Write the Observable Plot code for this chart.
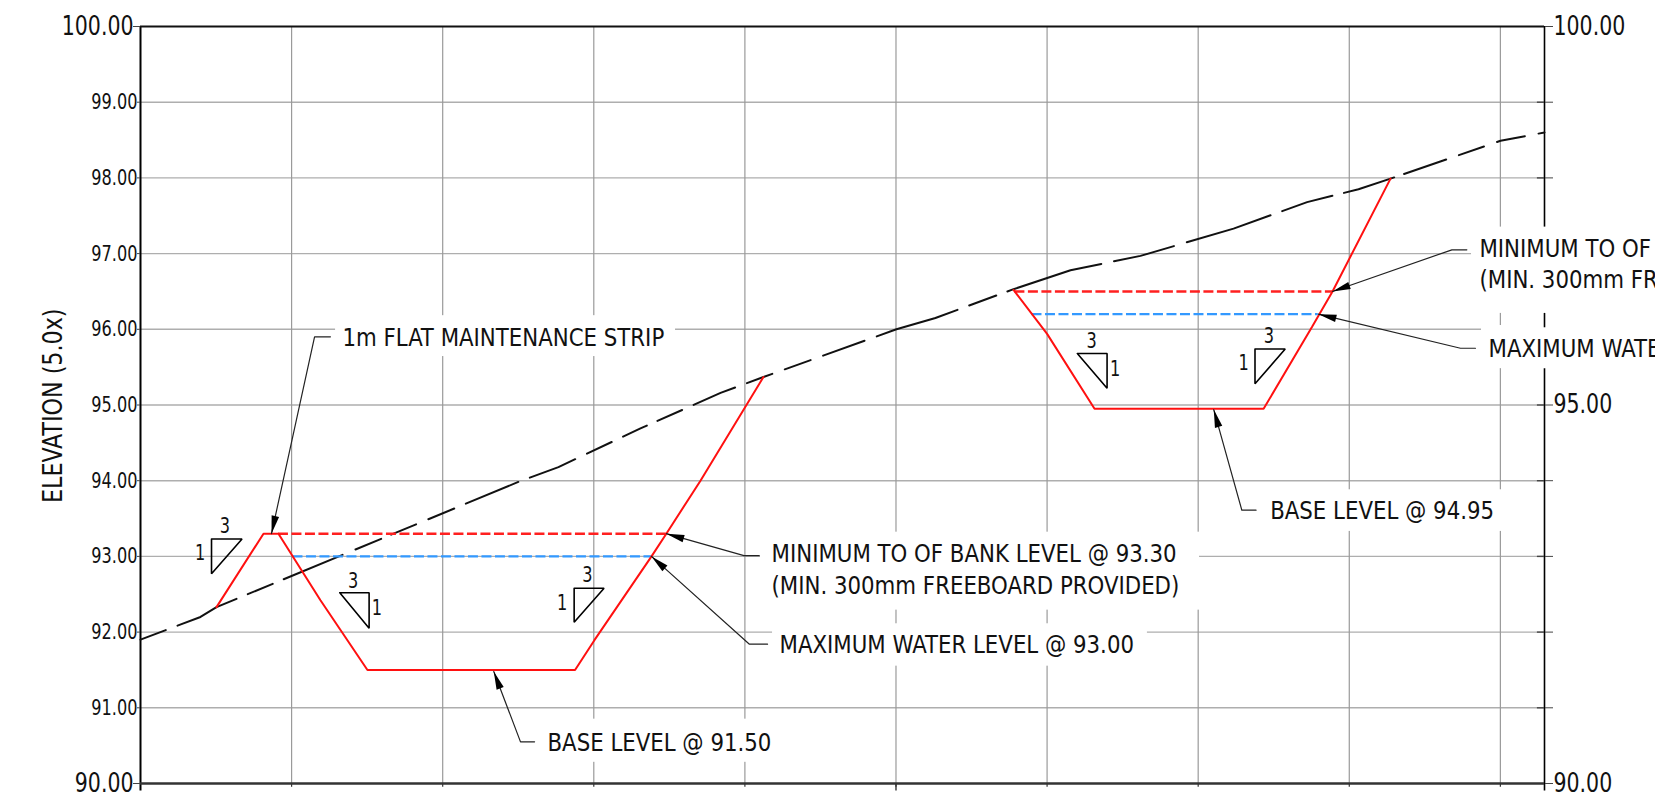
<!DOCTYPE html>
<html><head><meta charset="utf-8">
<style>html,body{margin:0;padding:0;background:#fff;overflow:hidden}</style>
<script src="https://cdn.jsdelivr.net/npm/d3@7"></script>
<script src="https://cdn.jsdelivr.net/npm/@observablehq/plot@0.6"></script>
</head><body><script>
const groundX=[0,3.97,5.03,25.08,27.66,33.09,38.39,41.23,50.03,52.61,57.78,61.55,66.18,72.34,77.21,80.61,82.73,90.01,92.92];
const groundY=[91.9,92.2,92.33,93.99,94.18,94.69,95.16,95.37,96,96.15,96.53,96.78,96.97,97.33,97.68,97.85,97.99,98.49,98.6];
const groundDash=[27,12.6,65,12.2,27,11.9,63.7,14,27.8,10.8,27,13.3,28,12.6,56.8,12.3,49,13,27.3,12.6,26.2,11.6,27,12.6,45,12.6,27,13.3,27.4,13.3,44,13,85,12.5,28.8,11.9,98,13,61.8,13.5,88,12.4,52.5,12,52.5,10.5,44.5,13.5,26.5,13.8,28.5,13.9,13,0];
const pond1X=[5.03,8.14,9.13,11.91,15.02,28.76,30.03,33.82,34.8,37.06,41.23];
const pond1Y=[92.33,93.3,93.3,92.42,91.5,91.5,91.89,93,93.3,94,95.37];
const pond2X=[57.78,60,63.14,74.33,77.53,78.89,82.73];
const pond2Y=[96.52,95.94,94.95,94.95,96.03,96.5,97.99];
const levelSeries=[
 {x1:9.13,x2:34.8,y:93.3,c:"#ff2020"},{x1:10.09,x2:33.82,y:93,c:"#3399ff"},
 {x1:57.87,x2:78.89,y:96.5,c:"#ff2020"},{x1:59,x2:77.95,y:96.2,c:"#3399ff"}];
const gridX=[10,20,30,40,50,60,70,80,90];
const gridY=[91,92,93,94,95,96,97,98,99];
const tickFmt=d3.format(".2f");
const wipeouts=[[12.91,35.41,96.18,95.64],[26.14,42.36,90.85,90.28],[41.03,70.09,93.32,92.29],[41.83,66.64,92.11,91.55],[88.09,100.27,97.35,96.21],[88.75,100.27,96.05,95.48],[73.93,90.34,93.88,93.33]];
const leaders=[
 [[8.67,93.3],[11.52,95.9],[12.57,95.9]],
 [[23.38,91.48],[25.15,90.55],[26.08,90.55]],
 [[34.8,93.3],[39.94,93.01],[40.95,93.01]],
 [[33.82,93],[40.3,91.84],[41.5,91.84]],
 [[71.03,94.94],[72.89,93.61],[73.83,93.61]],
 [[78.89,96.5],[86.79,97.05],[87.78,97.05]],
 [[77.96,96.2],[87.36,95.75],[88.35,95.75]]];
const triangles=[
 [[4.7,93.23],[6.72,93.23],[4.7,92.77]],
 [[13.19,92.52],[15.13,92.52],[15.13,92.05]],
 [[28.7,92.58],[30.68,92.58],[28.7,92.13]],
 [[62,95.68],[63.97,95.68],[63.97,95.22]],
 [[73.76,95.74],[75.76,95.74],[73.76,95.28]]];
const slopeLabels=[["3",5.59,93.4],["1",3.94,93.04],["3",14.08,92.67],["1",15.64,92.32],["3",29.58,92.76],["1",27.9,92.38],["3",62.94,95.84],["1",64.51,95.48],["3",74.68,95.91],["1",73,95.55]];
const notes=[
 ["1m FLAT MAINTENANCE STRIP",13.43,95.9],
 ["BASE LEVEL @ 91.50",27,90.55],
 ["MINIMUM TO OF BANK LEVEL @ 93.30",41.83,93.04],
 ["(MIN. 300mm FREEBOARD PROVIDED)",41.83,92.62],
 ["MAXIMUM WATER LEVEL @ 93.00",42.36,91.84],
 ["BASE LEVEL @ 94.95",74.83,93.61],
 ["MINIMUM TO OF",88.68,97.08],
 ["(MIN. 300mm FR",88.68,96.66],
 ["MAXIMUM WATE",89.28,95.75]];

const FONT="'DejaVu Sans Condensed','DejaVu Sans'";
const xPerPx=15.11, yPerPx=75.7;
const flat=(arr)=>arr.flatMap((pts,i)=>pts.map(p=>({x:p[0],y:p[1],z:i})));
const arrowHead={draw(ctx,l){ctx.moveTo(0,0);ctx.lineTo(-3.8,-18);ctx.lineTo(3.8,-18);ctx.closePath();}};
const arrows=leaders.map(([a,b])=>({x:a[0],y:a[1],r:Math.atan2((b[0]-a[0])*xPerPx,(b[1]-a[1])*yPerPx)*180/Math.PI}));
const pts=(X,Y)=>X.map((x,i)=>({x,y:Y[i]}));

const chart=Plot.plot({
 width:1655,height:810,marginLeft:140,marginRight:111,marginTop:26,marginBottom:27,
 style:{fontFamily:FONT,background:"#fff",color:"#111"},
 x:{domain:[0,92.92],axis:null},
 y:{domain:[90,100],axis:null},
 marks:[
  Plot.ruleY(gridY,{stroke:"#aeaeae",strokeWidth:1.4}),
  Plot.ruleX(gridX,{stroke:"#9a9a9a",strokeWidth:1.2}),
  Plot.rect(wipeouts,{x1:d=>d[0],x2:d=>d[1],y1:d=>d[2],y2:d=>d[3],fill:"#fff"}),
  Plot.ruleX([0],{y1:89.9,y2:100,stroke:"#000",strokeWidth:2}),
  Plot.ruleX([92.92],{y1:89.9,y2:95.48,stroke:"#000",strokeWidth:1.6}),
  Plot.ruleX([92.92],{y1:96.21,y2:96.02,stroke:"#000",strokeWidth:1.6}),
  Plot.ruleX([92.92],{y1:97.35,y2:100,stroke:"#000",strokeWidth:1.6}),
  Plot.ruleY([100],{stroke:"#111",strokeWidth:1.8}),
  Plot.ruleY([90],{stroke:"#333",strokeWidth:2.4}),
  Plot.ruleX(gridX,{y1:90,y2:89.95,stroke:"#333",strokeWidth:1.2}),
  Plot.ruleX([50],{y1:90,y2:89.9,stroke:"#333",strokeWidth:1.4}),
  Plot.axisY(gridY,{anchor:"left",tickSize:3,tickPadding:0,tickFormat:tickFmt,fontSize:22,label:null,stroke:"#444"}),
  Plot.axisY([90,100],{anchor:"left",tickSize:7,tickPadding:0,tickFormat:tickFmt,fontSize:26.5,label:null,stroke:"#444"}),
  Plot.axisY([90,95,100],{anchor:"right",tickSize:8,tickPadding:1,tickFormat:tickFmt,fontSize:26.5,label:null,stroke:"#444"}),
  Plot.axisY([91,92,93,94,98,99],{anchor:"right",tickSize:8,tickFormat:()=>"",label:null,stroke:"#444"}),
  Plot.ruleY([91,92,93,94,95,98,99],{x1:92.45,x2:92.92,stroke:"#444",strokeWidth:1.4}),
  Plot.text(["ELEVATION (5.0x)"],{x:-5.77,y:94.99,rotate:-90,fontSize:26,fill:"#111"}),
  Plot.line(pts(groundX,groundY),{x:"x",y:"y",stroke:"#111",strokeWidth:2,strokeDasharray:groundDash.join(" ")}),
  Plot.ruleY(levelSeries,{x1:"x1",x2:"x2",y:"y",stroke:"c",strokeWidth:2.4,strokeDasharray:"10 3.5"}),
  Plot.line(pts(pond1X,pond1Y),{x:"x",y:"y",stroke:"#ff1010",strokeWidth:2,strokeLinejoin:"miter"}),
  Plot.line(pts(pond2X,pond2Y),{x:"x",y:"y",stroke:"#ff1010",strokeWidth:2,strokeLinejoin:"miter"}),
  Plot.line(flat(leaders),{x:"x",y:"y",z:"z",stroke:"#222",strokeWidth:1.2}),
  Plot.vector(arrows,{x:"x",y:"y",rotate:"r",length:18,anchor:"start",shape:arrowHead,fill:"#000",stroke:"none"}),
  Plot.line(flat(triangles.map(t=>[...t,t[0]])),{x:"x",y:"y",z:"z",stroke:"#000",strokeWidth:1.6,strokeLinejoin:"miter"}),
  Plot.text(slopeLabels,{x:d=>d[1],y:d=>d[2],text:d=>d[0],fontSize:22,fill:"#111"}),
  Plot.text(notes,{x:d=>d[1],y:d=>d[2],text:d=>d[0],textAnchor:"start",dx:-1,dy:1,fontSize:25,fill:"#111"})
 ]});
document.body.appendChild(chart);
// the reference lettering is narrower than DejaVu Sans Condensed
const squeeze={"22":0.815,"26.5":0.86,"25":0.947,"26":0.95};
chart.querySelectorAll("text").forEach(t=>{
 if(!t.textContent) return;
 const k=squeeze[parseFloat(getComputedStyle(t).fontSize)];
 if(k){t.setAttribute("textLength",t.getComputedTextLength()*k);t.setAttribute("lengthAdjust","spacingAndGlyphs");}
});
</script></body></html>
